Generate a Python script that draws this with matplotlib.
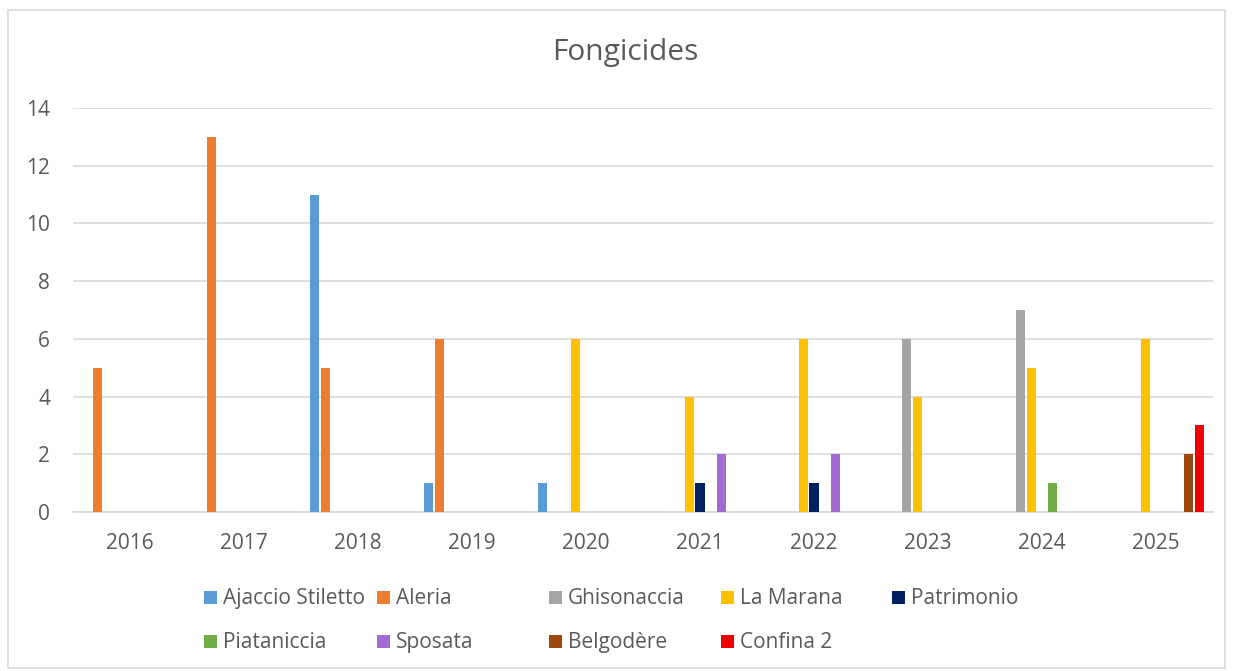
import matplotlib
matplotlib.use("Agg")
import matplotlib.pyplot as plt
from matplotlib.patches import Rectangle
import numpy as np

years = ["2016", "2017", "2018", "2019", "2020", "2021", "2022", "2023", "2024", "2025"]
series_names = ["Ajaccio Stiletto", "Aleria", "Ghisonaccia", "La Marana", "Patrimonio",
                "Piataniccia", "Sposata", "Belgodère", "Confina 2"]
ajaccio = [0, 0, 11, 1, 1, 0, 0, 0, 0, 0]
aleria = [5, 13, 5, 6, 0, 0, 0, 0, 0, 0]
ghisonaccia = [0, 0, 0, 0, 0, 0, 0, 6, 7, 0]
la_marana = [0, 0, 0, 0, 6, 4, 6, 4, 5, 6]
patrimonio = [0, 0, 0, 0, 0, 1, 1, 0, 0, 0]
piataniccia = [0, 0, 0, 0, 0, 0, 0, 0, 1, 0]
sposata = [0, 0, 0, 0, 0, 2, 2, 0, 0, 0]
belgodere = [0, 0, 0, 0, 0, 0, 0, 0, 0, 2]
confina2 = [0, 0, 0, 0, 0, 0, 0, 0, 0, 3]
series_values = [ajaccio, aleria, ghisonaccia, la_marana, patrimonio,
                 piataniccia, sposata, belgodere, confina2]
colors = ["#5B9BD5", "#ED7D31", "#A5A5A5", "#FFC000", "#002060",
          "#70AD47", "#A569D3", "#9E480E", "#EE0000"]

plt.rcParams['font.family'] = ['Open Sans', 'DejaVu Sans']
W, H = 1233, 671
fig = plt.figure(figsize=(W / 100, H / 100), dpi=100)
fig.patch.set_facecolor("white")
# chart border
fig.patches.append(Rectangle((8 / W, 1 - 668 / H), (1225 - 8) / W, (668 - 10) / H,
                             transform=fig.transFigure, fill=False,
                             edgecolor="#D9D9D9", linewidth=1.2))

ax = fig.add_axes([73 / W, 1 - 512 / H, (1213 - 73) / W, (512 - 108) / H])
x = np.arange(len(years))
slot = 0.0962
bw = 0.079
n = len(series_values)
for i, (vals, c) in enumerate(zip(series_values, colors)):
    ax.bar(x + (i - (n - 1) / 2) * slot, vals, width=bw, color=c, zorder=3)

ax.set_xlim(-0.5, len(years) - 0.5)
ax.set_ylim(0, 14)
ax.set_yticks(range(0, 15, 2))
ax.set_xticks(x)
ax.set_xticklabels(years)
ax.tick_params(axis="both", length=0, labelsize=15, labelcolor="#595959")
ax.tick_params(axis="y", pad=16.5)
ax.tick_params(axis="x", pad=15)
ax.grid(axis="y", color="#D9D9D9", linewidth=1.2, zorder=0)
for s in ["top", "right", "left"]:
    ax.spines[s].set_visible(False)
ax.spines["bottom"].set_color("#D9D9D9")
ax.spines["bottom"].set_linewidth(1.2)

fig.text(625 / W, 1 - 60 / H, "Fongicides", ha="center", va="baseline",
         fontsize=21.5, color="#595959")

# legend (Excel-style equal columns)
leg_x = [210, 383, 555, 727, 898]
leg_base = [604, 648]
sq = 13
for i, (name, c) in enumerate(zip(series_names, colors)):
    r, col = divmod(i, 5)
    cx, base = leg_x[col], leg_base[r]
    fig.patches.append(Rectangle(((cx - sq / 2) / W, 1 - base / H), sq / W, sq / H,
                                 transform=fig.transFigure, facecolor=c, edgecolor="none"))
    fig.text((cx + 13) / W, 1 - base / H, name, ha="left", va="baseline",
             fontsize=15, color="#595959")

fig.savefig("out.png", dpi=100, facecolor="white")
